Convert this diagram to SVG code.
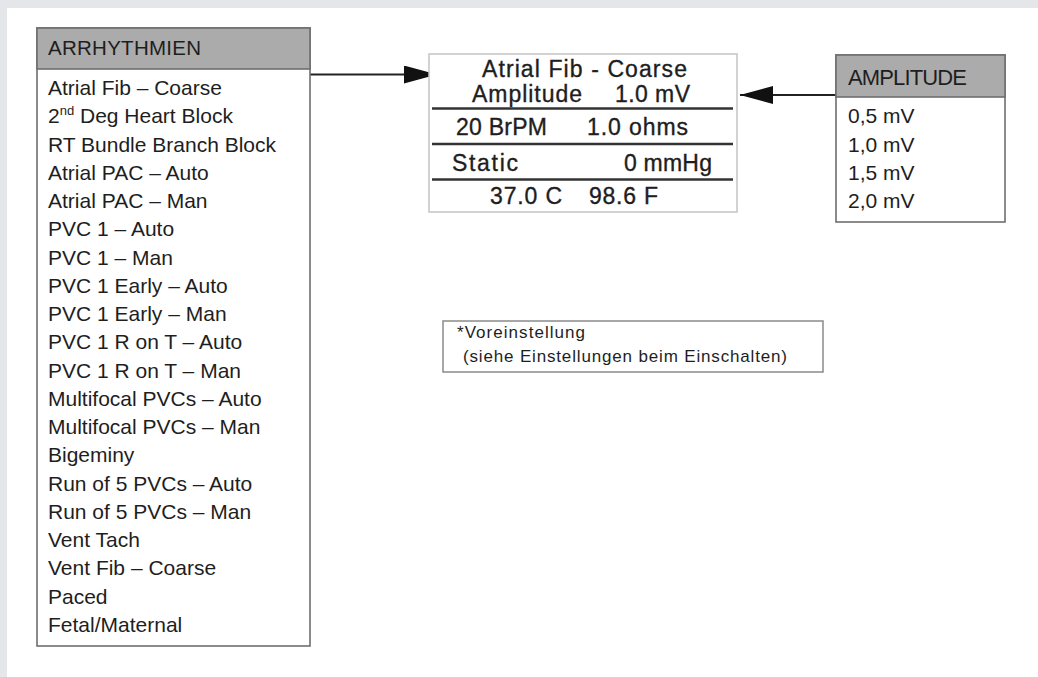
<svg xmlns="http://www.w3.org/2000/svg" width="1038" height="677" viewBox="0 0 1038 677">
  <style>
    text { font-family: "Liberation Sans", Arial, sans-serif; fill: #1e1e1e; }
    .box { fill: #ffffff; stroke: #6e6e6e; stroke-width: 1.6; }
    .hdr { fill: #ababab; stroke: #6e6e6e; stroke-width: 1.6; }
    .lst { font-size: 21px; }
    .htxt { font-size: 20.5px; }
    .htxt2 { font-size: 22px; }
    .lcd { font-size: 23px; stroke: #1e1e1e; stroke-width: 0.35; }
    .sep { stroke: #333333; stroke-width: 2.4; }
    .note { font-size: 17px; }
    .conn { stroke: #222222; stroke-width: 2; fill: none; }
  </style>
  <defs>
    <marker id="arrow" viewBox="0 0 33 18" refX="33" refY="9" markerWidth="33" markerHeight="18" markerUnits="userSpaceOnUse" orient="auto">
      <path d="M0,0 L33,9 L0,18 Z" fill="#111111"/>
    </marker>
  </defs>
  <rect x="0" y="0" width="1038" height="677" fill="#e4e6ea"/>
  <rect x="7" y="8" width="1031" height="669" fill="#ffffff"/>

  <g id="connectors">
    <line class="conn" x1="310" y1="74.5" x2="437" y2="74.5" marker-end="url(#arrow)"/>
    <line class="conn" x1="836" y1="95" x2="740" y2="95" marker-end="url(#arrow)"/>
  </g>

  <g id="arrhythmien">
    <rect class="box" x="37" y="28" width="273" height="618"/>
    <rect class="hdr" x="37" y="28" width="273" height="41"/>
    <text class="htxt" x="48" y="54.5" textLength="153">ARRHYTHMIEN</text>
    <text class="lst" x="48" y="95">Atrial Fib – Coarse</text>
    <text class="lst" x="48" y="123.3">2<tspan font-size="13" dy="-8">nd</tspan><tspan dy="8"> Deg Heart Block</tspan></text>
    <text class="lst" x="48" y="151.5">RT Bundle Branch Block</text>
    <text class="lst" x="48" y="179.8">Atrial PAC – Auto</text>
    <text class="lst" x="48" y="208">Atrial PAC – Man</text>
    <text class="lst" x="48" y="236.3">PVC 1 – Auto</text>
    <text class="lst" x="48" y="264.5">PVC 1 – Man</text>
    <text class="lst" x="48" y="292.8">PVC 1 Early – Auto</text>
    <text class="lst" x="48" y="321">PVC 1 Early – Man</text>
    <text class="lst" x="48" y="349.3">PVC 1 R on T – Auto</text>
    <text class="lst" x="48" y="377.5">PVC 1 R on T – Man</text>
    <text class="lst" x="48" y="405.8">Multifocal PVCs – Auto</text>
    <text class="lst" x="48" y="434">Multifocal PVCs – Man</text>
    <text class="lst" x="48" y="462.3">Bigeminy</text>
    <text class="lst" x="48" y="490.5">Run of 5 PVCs – Auto</text>
    <text class="lst" x="48" y="518.8">Run of 5 PVCs – Man</text>
    <text class="lst" x="48" y="547">Vent Tach</text>
    <text class="lst" x="48" y="575.3">Vent Fib – Coarse</text>
    <text class="lst" x="48" y="603.5">Paced</text>
    <text class="lst" x="48" y="631.8">Fetal/Maternal</text>
  </g>

  <g id="display">
    <rect x="429" y="54" width="308" height="158" fill="#ffffff" stroke="#c4c4c4" stroke-width="1.5"/>
    <text class="lcd" x="482" y="77" textLength="205">Atrial Fib - Coarse</text>
    <text class="lcd" x="472" y="101.5" textLength="110">Amplitude</text>
    <text class="lcd" x="615" y="101.5" textLength="75">1.0 mV</text>
    <line class="sep" x1="432" y1="108.5" x2="733" y2="108.5"/>
    <text class="lcd" x="456" y="135" textLength="91">20 BrPM</text>
    <text class="lcd" x="587" y="135" textLength="101">1.0 ohms</text>
    <line class="sep" x1="432" y1="144" x2="733" y2="144"/>
    <text class="lcd" x="452" y="170.5" textLength="66">Static</text>
    <text class="lcd" x="624" y="170.5" textLength="88">0 mmHg</text>
    <line class="sep" x1="432" y1="179.5" x2="733" y2="179.5"/>
    <text class="lcd" x="490" y="204" textLength="72">37.0 C</text>
    <text class="lcd" x="589" y="204" textLength="69">98.6 F</text>
  </g>

  <g id="amplitude">
    <rect class="box" x="836" y="55" width="169" height="167"/>
    <rect class="hdr" x="836" y="55" width="169" height="42"/>
    <text class="htxt2" x="848" y="84.5" textLength="119">AMPLITUDE</text>
    <text class="lst" x="848" y="123.3">0,5 mV</text>
    <text class="lst" x="848" y="151.6">1,0 mV</text>
    <text class="lst" x="848" y="179.9">1,5 mV</text>
    <text class="lst" x="848" y="208.2">2,0 mV</text>
  </g>

  <g id="note">
    <rect x="443" y="321" width="380" height="51" fill="#ffffff" stroke="#8a8a8a" stroke-width="1.5"/>
    <text class="note" x="457" y="337.5" textLength="128">*Voreinstellung</text>
    <text class="note" x="463" y="362" textLength="324">(siehe Einstellungen beim Einschalten)</text>
  </g>
</svg>
